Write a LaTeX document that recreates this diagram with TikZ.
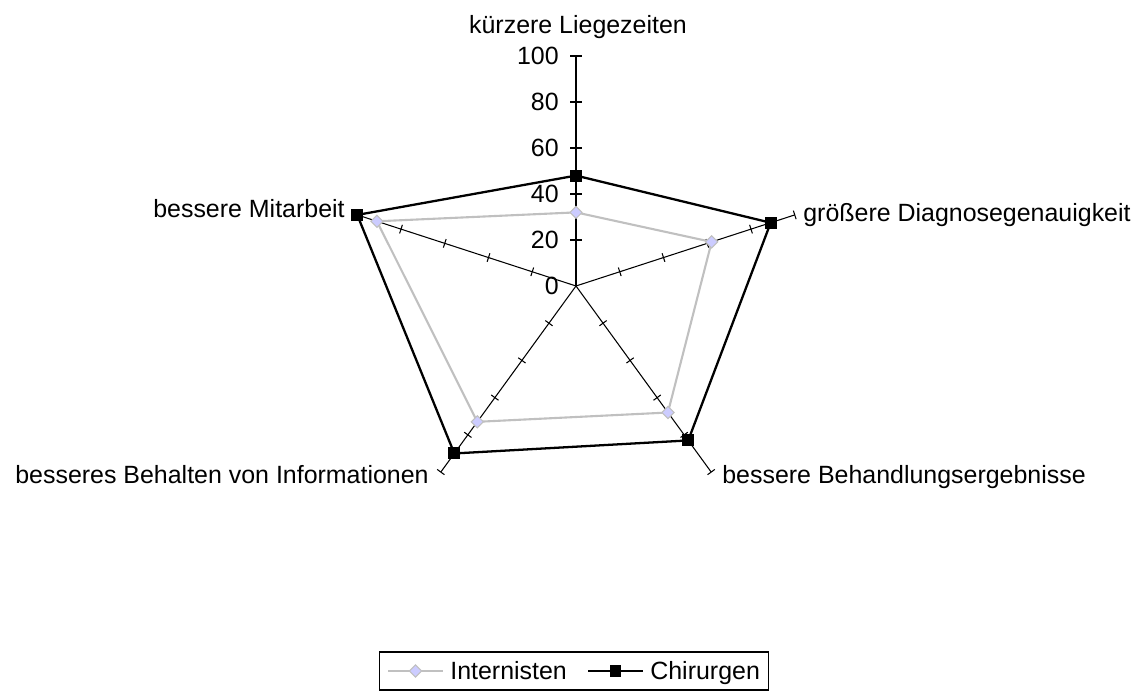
\documentclass[tikz,border=0pt]{standalone}
\usepackage{fontspec}
\setmainfont{Liberation Sans}
\usetikzlibrary{calc,shapes.geometric}
\definecolor{intline}{HTML}{C0C0C0}
\definecolor{intfill}{HTML}{CCCCFF}
\begin{document}
\begin{tikzpicture}[x=0.02cm,y=0.02cm,
  font=\fontsize{14.2pt}{17pt}\selectfont,
  axisline/.style={line width=0.6pt, black},
  tickmark/.style={line width=0.6pt, black},
  chir/.style={line width=1.3pt, black, line join=miter},
  inter/.style={line width=1.2pt, intline, line join=miter},
  sqmark/.style={rectangle, fill=black, minimum size=6.8pt, inner sep=0pt},
  dmmark/.style={diamond, aspect=1, fill=intfill, draw=intline, line width=0.6pt, minimum size=7.2pt, inner sep=0pt},
  catlabel/.style={inner sep=0pt},
  vallabel/.style={inner sep=0pt, anchor=east}]
\useasboundingbox (0,0) rectangle (1144,695);
\coordinate (O) at (576,409);
% axes
\foreach \k in {0,...,4} {
  \pgfmathsetmacro\ang{90-72*\k}
  \coordinate (A\k) at ($(O)+(\ang:230)$);
  \draw[axisline] (O) -- (A\k);
}
% ticks on the value axis
\foreach \v in {20,40,...,100} {
  \pgfmathsetmacro\r{\v*2.3}
  \draw[tickmark] ($(O)+(-6,\r)$) -- ($(O)+(6,\r)$);
}
% ticks on the other axes
\foreach \k in {1,...,4} {
  \foreach \v in {20,40,...,100} {
    \pgfmathsetmacro\ang{90-72*\k}
    \pgfmathsetmacro\pa{\ang+90}
    \pgfmathsetmacro\r{\v*2.3}
    \draw[tickmark] ($(O)+(\ang:\r)+(\pa:4.5)$) -- ($(O)+(\ang:\r)-(\pa:4.5)$);
  }
}
% value labels
\foreach \v in {0,20,...,100} {
  \pgfmathsetmacro\r{\v*2.3}
  \node[vallabel] (val\v) at ($(O)+(-17,\r)$) {\v};
}
% category labels
\node[catlabel, anchor=base] (L0) at (578,661) {kürzere Liegezeiten};
\node[catlabel, anchor=base west] (L1) at (803,473) {größere Diagnosegenauigkeit};
\node[catlabel, anchor=base west] (L2) at (722,211) {bessere Behandlungsergebnisse};
\node[catlabel, anchor=base east] (L3) at (429,211) {besseres Behalten von Informationen};
\node[catlabel, anchor=base east] (L4) at (345,477) {bessere Mitarbeit};
% data: Internisten
\foreach \v [count=\i from 0] in {32,62,68,73,91} {
  \pgfmathsetmacro\ang{90-72*\i}
  \pgfmathsetmacro\r{\v*2.3}
  \coordinate (I\i) at ($(O)+(\ang:\r)$);
}
% data: Chirurgen
\foreach \v [count=\i from 0] in {48,89,83,90,100} {
  \pgfmathsetmacro\ang{90-72*\i}
  \pgfmathsetmacro\r{\v*2.3}
  \coordinate (C\i) at ($(O)+(\ang:\r)$);
}
\draw[inter] (I0) -- (I1) -- (I2) -- (I3) -- (I4) -- cycle;
\foreach \i in {0,...,4} \node[dmmark] (Im\i) at (I\i) {};
\draw[chir] (C0) -- (C1) -- (C2) -- (C3) -- (C4) -- cycle;
\foreach \i in {0,...,4} \node[sqmark] (Cm\i) at (C\i) {};
% legend
\node[draw, line width=0.6pt, minimum width=7.8cm, minimum height=0.76cm, inner sep=0pt] (legend) at (574,24) {};
\coordinate (li1) at (388,24);
\coordinate (li2) at (443,24);
\draw[inter] (li1) -- (li2);
\node[dmmark] (lid) at ($(li1)!0.5!(li2)$) {};
\node[catlabel, anchor=base west] (lit) at (450,15) {Internisten};
\coordinate (lc1) at (588,24);
\coordinate (lc2) at (643,24);
\draw[chir] (lc1) -- (lc2);
\node[sqmark] (lcs) at ($(lc1)!0.5!(lc2)$) {};
\node[catlabel, anchor=base west] (lct) at (650,15) {Chirurgen};
\end{tikzpicture}
\end{document}
